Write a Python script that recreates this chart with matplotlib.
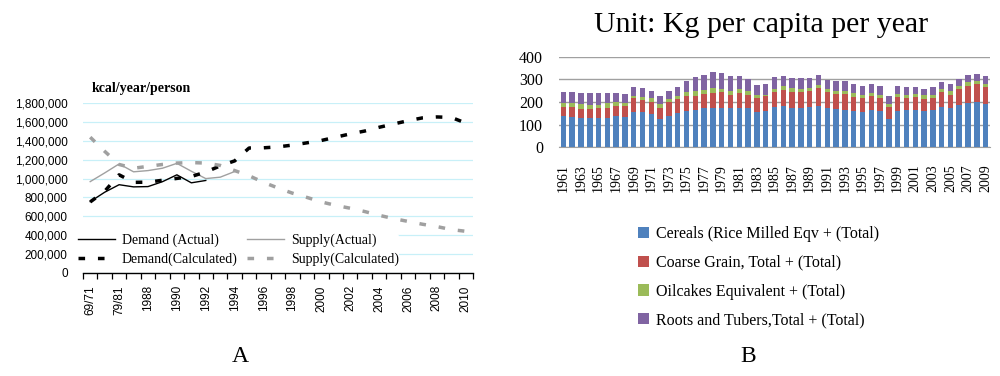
import numpy as np
import matplotlib
matplotlib.use("Agg")
import matplotlib.pyplot as plt
from matplotlib.patches import Patch

# ---------------- Data: chart A ----------------
periods = ["69/71", "74/76", "79/81", "84/86", "1988", "1989", "1990", "1991", "1992",
           "1993", "1994", "1995", "1996", "1997", "1998", "1999", "2000", "2001",
           "2002", "2003", "2004", "2005", "2006", "2007", "2008", "2009", "2010"]
demand_actual = [755e3, 855e3, 935e3, 912e3, 915e3, 967e3, 1040e3, 955e3, 980e3] + [np.nan] * 18
supply_actual = [968e3, 1060e3, 1156e3, 1072e3, 1085e3, 1110e3, 1162e3, 1078e3, 1000e3,
                 1015e3, 1075e3] + [np.nan] * 16
demand_calc = [752e3, 865e3, 1040e3, 960e3, 962e3, 982e3, 1002e3, 1022e3, 1070e3,
               1135e3, 1188e3, 1325e3, 1327e3, 1337e3, 1356e3, 1380e3, 1405e3, 1440e3,
               1475e3, 1505e3, 1545e3, 1580e3, 1615e3, 1645e3, 1655e3, 1650e3, 1590e3]
supply_calc = [1440e3, 1290e3, 1150e3, 1110e3, 1130e3, 1150e3, 1165e3, 1170e3, 1165e3,
               1140e3, 1085e3, 1030e3, 960e3, 900e3, 845e3, 800e3, 752e3, 715e3,
               685e3, 650e3, 610e3, 575e3, 545e3, 515e3, 490e3, 458e3, 440e3]

# ---------------- Data: chart B ----------------
years = list(range(1961, 2010))
cereals = [138, 134, 129, 129, 129, 129, 137, 134, 156, 156, 146, 126, 140, 150, 160, 165,
           172, 172, 175, 172, 172, 172, 157, 160, 179, 182, 172, 175, 179, 182, 172, 168,
           165, 160, 156, 165, 160, 126, 160, 163, 163, 160, 163, 179, 175, 185, 196, 199, 191]
coarse = [41, 44, 42, 42, 43, 46, 47, 50, 60, 53, 55, 49, 59, 63, 66, 61,
          65, 69, 69, 60, 68, 60, 62, 66, 67, 71, 71, 71, 71, 78, 74, 67,
          70, 64, 63, 61, 59, 53, 64, 56, 59, 55, 56, 64, 57, 72, 76, 79, 77]
oilcakes = [18, 16, 19, 16, 15, 19, 15, 13, 10, 13, 17, 16, 16, 12, 18, 24,
            17, 19, 15, 18, 17, 18, 12, 6, 13, 16, 17, 11, 13, 15, 11, 15,
            15, 14, 13, 14, 13, 12, 10, 13, 13, 14, 13, 14, 15, 12, 18, 13, 13]
roots = [49, 49, 48, 51, 51, 44, 39, 38, 39, 38, 32, 34, 32, 40, 50, 59,
         65, 74, 70, 66, 56, 50, 44, 46, 50, 46, 44, 47, 41, 43, 42, 43,
         43, 40, 39, 38, 39, 35, 37, 36, 30, 28, 33, 31, 31, 31, 29, 31, 34]
series_names = ["Cereals (Rice Milled Eqv + (Total)", "Coarse Grain, Total + (Total)",
                "Oilcakes Equivalent + (Total)", "Roots and Tubers,Total + (Total)"]
series_colors = ["#4F81BD", "#C0504D", "#9BBB59", "#8064A2"]

SERIF = ["Liberation Serif", "DejaVu Serif"]
SANS = ["Liberation Sans", "DejaVu Sans"]
plt.rcParams["font.family"] = SERIF

W, H = 1000, 376
fig = plt.figure(figsize=(W / 100, H / 100), dpi=100)

def fx(px):
    return px / W

def fy(py):
    return 1 - py / H

# ---------------- Chart A ----------------
ax1 = fig.add_axes([fx(83), fy(272.7), fx(473 - 83), (272.7 - 103.3) / H])
x = np.arange(len(periods))
dash = (0, (1.9, 3.7))
l_da, = ax1.plot(x, demand_actual, color="black", lw=1.0, zorder=3)
l_sa, = ax1.plot(x, supply_actual, color="#a0a0a0", lw=1.0, zorder=3)
l_dc, = ax1.plot(x, demand_calc, color="black", lw=2.5, ls=dash, zorder=4)
l_sc, = ax1.plot(x, supply_calc, color="#a0a0a0", lw=2.5, ls=dash, zorder=4)

ax1.set_xlim(-0.5, len(periods) - 0.5)
ax1.set_ylim(0, 1800000)
ax1.set_yticks(np.arange(0, 1800001, 200000))
ax1.set_yticklabels([f"{int(v):,}" for v in np.arange(0, 1800001, 200000)],
                    family=SANS, fontsize=8.5)
ax1.grid(axis="y", color="#c8f0f8", lw=0.9)
ax1.set_axisbelow(True)
for s in ["top", "right", "left"]:
    ax1.spines[s].set_visible(False)
ax1.spines["bottom"].set_color("black")
ax1.spines["bottom"].set_linewidth(1.0)
ax1.tick_params(axis="y", length=0, pad=11)
ax1.set_xticks(x)
ax1.set_xticklabels([p if i % 2 == 0 else "" for i, p in enumerate(periods)],
                    rotation=90, fontsize=8.5, family=SANS)
ax1.set_xticks(np.arange(-0.5, len(periods)), minor=True)
ax1.tick_params(axis="x", which="major", length=0, pad=9)
ax1.tick_params(axis="x", which="minor", length=4, width=0.9, color="black")

fig.text(fx(92), fy(92), "kcal/year/person", family=SERIF, fontweight="bold",
         fontsize=10, ha="left", va="baseline")

leg1 = ax1.legend([l_da, l_dc, l_sa, l_sc],
                  ["Demand (Actual)", "Demand(Calculated)", "Supply(Actual)", "Supply(Calculated)"],
                  ncol=2, loc="upper left", bbox_to_anchor=(fx(78), fy(234)),
                  bbox_transform=fig.transFigure, prop={"family": SERIF, "size": 10},
                  frameon=True, borderpad=0.0, handlelength=2.66, handletextpad=0.5,
                  columnspacing=0.7, labelspacing=0.35, borderaxespad=0)
leg1.get_frame().set_facecolor("white")
leg1.get_frame().set_edgecolor("none")
leg1.get_frame().set_alpha(1)
leg1.set_zorder(10)

fig.text(fx(240), fy(357), "A", family=SERIF, fontsize=17, ha="center", va="center")

# ---------------- Chart B ----------------
ax2 = fig.add_axes([fx(559), fy(147.3), fx(990 - 559), (147.3 - 56.7) / H])
xb = np.arange(len(years))
bottom = np.zeros(len(years))
handles = []
for vals, name, col in zip([cereals, coarse, oilcakes, roots], series_names, series_colors):
    ax2.bar(xb, vals, width=0.62, bottom=bottom, color=col, zorder=3)
    bottom = bottom + np.array(vals)
    handles.append(Patch(facecolor=col, edgecolor="none", label=name))

ax2.set_xlim(-0.5, len(years) - 0.5)
ax2.set_ylim(0, 400)
ax2.set_yticks(np.arange(0, 401, 100))
ax2.set_yticklabels([str(v) for v in range(0, 401, 100)], family=SERIF, fontsize=11.5)
ax2.grid(axis="y", color="#a0a0a0", lw=1.0)
ax2.set_axisbelow(True)
for s in ["top", "right", "left"]:
    ax2.spines[s].set_visible(False)
ax2.spines["bottom"].set_color("#a0a0a0")
ax2.set_xticks(xb)
ax2.set_xticklabels([str(y) if i % 2 == 0 else "" for i, y in enumerate(years)],
                    rotation=90, fontsize=10, family=SERIF)
ax2.tick_params(axis="x", length=0, pad=12)
ax2.tick_params(axis="y", length=0, pad=11.5)

fig.text(fx(761), fy(32), "Unit: Kg per capita per year", family=SERIF, fontsize=21.5,
         ha="center", va="baseline")

fig.legend(handles=handles, loc="upper left", bbox_to_anchor=(fx(638), fy(226)),
           prop={"family": SERIF, "size": 11.5}, frameon=False, handlelength=0.7,
           handleheight=0.7, handletextpad=0.4, labelspacing=0.8, borderpad=0,
           borderaxespad=0)

fig.text(fx(748), fy(357), "B", family=SERIF, fontsize=17, ha="center", va="center")

fig.savefig("out.png", dpi=100, facecolor="white")
